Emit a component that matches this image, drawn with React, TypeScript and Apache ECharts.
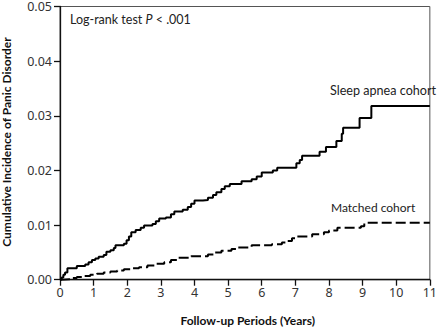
import React, { useEffect, useRef } from "react";
import * as echarts from "echarts";

const sleepApnea: [number, number][] = [
  [0, 0], [0.05, 0.0004], [0.1, 0.0009], [0.15, 0.0013], [0.22, 0.0021],
  [0.5, 0.0025], [0.75, 0.0028], [0.85, 0.0032], [0.95, 0.0036], [1.05, 0.0039],
  [1.15, 0.0042], [1.3, 0.0045], [1.38, 0.0051], [1.5, 0.0054], [1.6, 0.0058],
  [1.65, 0.0063], [1.9, 0.0066], [1.98, 0.0072], [2.05, 0.0079], [2.12, 0.0087],
  [2.25, 0.0091], [2.4, 0.0095], [2.5, 0.0099], [2.75, 0.0102], [2.85, 0.0107],
  [2.95, 0.0112], [3.15, 0.0114], [3.3, 0.012], [3.4, 0.0125], [3.65, 0.0128],
  [3.8, 0.0133], [3.9, 0.0139], [4.0, 0.0145], [4.25, 0.0146], [4.4, 0.015],
  [4.55, 0.0155], [4.65, 0.016], [4.8, 0.0166], [4.9, 0.0171], [5.05, 0.0175],
  [5.4, 0.018], [5.7, 0.0184], [5.85, 0.0189], [6.0, 0.0196], [6.33, 0.02],
  [6.46, 0.0205], [7.03, 0.0213], [7.13, 0.0219], [7.2, 0.0227], [7.72, 0.0234],
  [7.91, 0.0243], [8.22, 0.0254], [8.38, 0.0267], [8.42, 0.0278], [8.91, 0.0296],
  [9.26, 0.0318], [11, 0.0318],
];

const matched: [number, number][] = [
  [0, 0], [0.1, 0.0001], [0.3, 0.0003], [0.5, 0.0005], [0.7, 0.0007],
  [0.9, 0.0009], [1.1, 0.0011], [1.3, 0.0013], [1.5, 0.0015], [1.7, 0.0017],
  [1.9, 0.0019], [2.1, 0.0021], [2.35, 0.0023], [2.6, 0.0026], [2.85, 0.0029],
  [3.1, 0.0032], [3.3, 0.0036], [3.5, 0.004], [3.9, 0.0043], [4.4, 0.0046],
  [4.6, 0.005], [4.8, 0.0053], [5.1, 0.0056], [5.3, 0.0059], [5.7, 0.0063],
  [6.3, 0.0065], [6.6, 0.0068], [6.75, 0.0071], [6.9, 0.0076], [7.05, 0.0079],
  [7.5, 0.0083], [7.85, 0.0087], [8.0, 0.009], [8.25, 0.0095], [8.95, 0.0098],
  [9.05, 0.0104], [11, 0.0104],
];

const xTicks = { min: 0, max: 11, interval: 1 };
const yTicks = { min: 0, max: 0.05, interval: 0.01 };

const seriesLabels = ["Sleep apnea cohort", "Matched cohort"];
const xTitle = "Follow-up Periods (Years)";
const yTitle = "Cumulative Incidence of Panic Disorder";

const FONT = "'Noto Sans', sans-serif";
const LFONT = "Lato, sans-serif";

export default function App() {
  const ref = useRef<HTMLDivElement>(null);
  useEffect(() => {
    if (!ref.current) return;
    const chart = echarts.init(ref.current, null, { renderer: "svg" });
    chart.setOption({
      animation: false,
      grid: {
        left: 60,
        right: 4.5,
        top: 4.7,
        bottom: 48.3,
        show: true,
        borderColor: "#555",
        borderWidth: 1,
        backgroundColor: "transparent",
      },
      xAxis: {
        type: "value",
        min: xTicks.min,
        max: xTicks.max,
        interval: xTicks.interval,
        axisLine: { show: true, lineStyle: { color: "#111", width: 1.3 } },
        axisTick: { show: true, length: 6, lineStyle: { color: "#111", width: 1.3 } },
        axisLabel: { color: "#333", fontSize: 12.5, fontFamily: FONT, margin: 6 },
        splitLine: { show: false },
      },
      yAxis: {
        type: "value",
        min: yTicks.min,
        max: yTicks.max,
        interval: yTicks.interval,
        axisLine: { show: true, lineStyle: { color: "#111", width: 1.3 } },
        axisTick: { show: true, length: 6, lineStyle: { color: "#111", width: 1.3 } },
        axisLabel: {
          color: "#333",
          fontSize: 12.5,
          fontFamily: FONT,
          margin: 8,
          formatter: (v: number) => v.toFixed(2),
        },
        splitLine: { show: false },
      },
      series: [
        {
          name: seriesLabels[0],
          type: "line",
          step: "end",
          data: sleepApnea,
          showSymbol: false,
          lineStyle: { color: "#000", width: 2 },
          z: 3,
        },
        {
          name: seriesLabels[1],
          type: "line",
          step: "end",
          data: matched,
          showSymbol: false,
          lineStyle: { color: "#000", width: 2, type: [10, 4] },
          z: 3,
        },
      ],
      graphic: [
        {
          type: "text",
          x: 70,
          y: 19,
          style: {
            text: "{a|Log-rank test }{b|P}{a| < .001}",
            verticalAlign: "middle",
            rich: {
              a: { fontFamily: LFONT, fontSize: 12.5, fill: "#222" },
              b: { fontFamily: LFONT, fontSize: 12.5, fill: "#222", fontStyle: "italic" },
            },
          },
        },
        {
          type: "text",
          x: 330,
          y: 90,
          style: {
            text: seriesLabels[0],
            fontFamily: LFONT,
            fontSize: 12.6,
            fill: "#222",
            verticalAlign: "middle",
          },
        },
        {
          type: "text",
          x: 331,
          y: 207,
          style: {
            text: seriesLabels[1],
            fontFamily: LFONT,
            fontSize: 12,
            fill: "#222",
            verticalAlign: "middle",
          },
        },
        {
          type: "text",
          x: 247.7,
          y: 320.5,
          style: {
            text: xTitle,
            fontFamily: LFONT,
            fontSize: 12,
            fontWeight: "bold",
            fill: "#111",
            align: "center",
            verticalAlign: "middle",
          },
        },
        {
          type: "text",
          x: 6,
          y: 142,
          rotation: Math.PI / 2,
          style: {
            text: yTitle,
            fontFamily: LFONT,
            fontSize: 12,
            fontWeight: "bold",
            fill: "#111",
            align: "center",
            verticalAlign: "middle",
          },
        },
      ],
    });
    return () => chart.dispose();
  }, []);
  return <div ref={ref} style={{ width: 440, height: 328, position: "absolute", left: 0, top: 0 }} />;
}
